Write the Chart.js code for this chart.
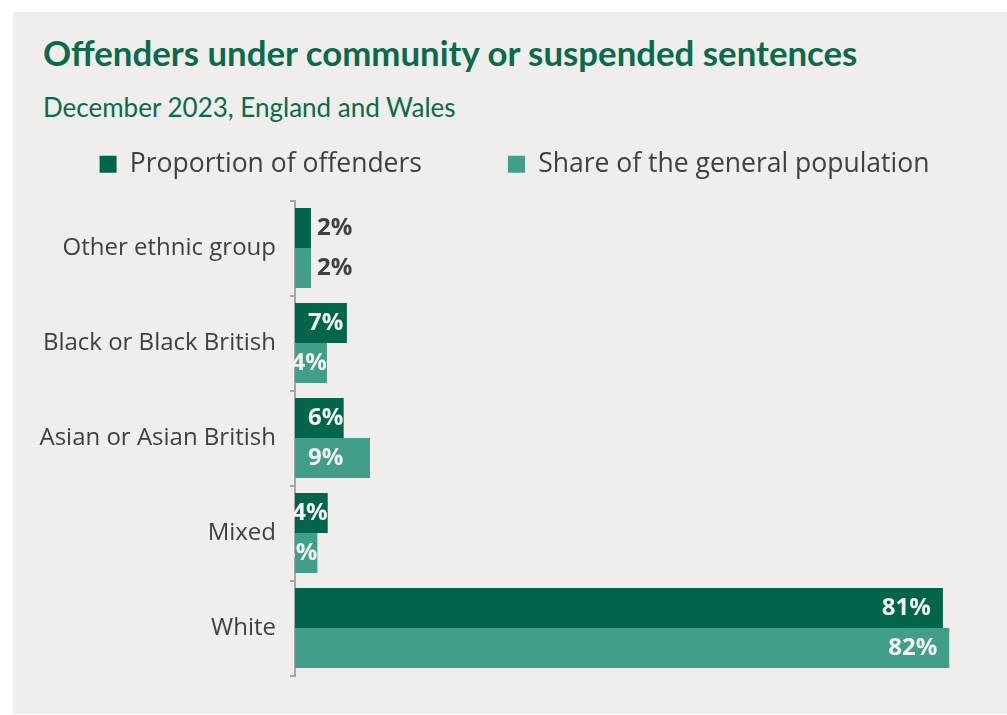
<!DOCTYPE html>
<html>
<head>
<meta charset="utf-8">
<title>Offenders under community or suspended sentences</title>
<script src="https://cdn.jsdelivr.net/npm/chart.js@4.4.1/dist/chart.umd.min.js"></script>
<style>
  body { margin: 0; background: #ffffff; width: 1007px; height: 715px; overflow: hidden; position: relative; }
  .panel { position: absolute; left: 13px; top: 12px; width: 994px; height: 702px; background: #efeeec; }
  h1 { position: absolute; left: 43px; top: 33px; margin: 0; font: bold 34.8px Lato, sans-serif; color: #0b6a4a; line-height: 40px; white-space: nowrap; }
  .sub { position: absolute; left: 43px; top: 92px; margin: 0; font: 26px Lato, sans-serif; color: #0b6a4a; line-height: 30px; white-space: nowrap; }
  .wrap { position: absolute; left: 0; top: 65px; width: 1025px; height: 639px; }
</style>
</head>
<body>
<div class="panel"></div>
<h1>Offenders under community or suspended sentences</h1>
<p class="sub">December 2023, England and Wales</p>
<div class="wrap"><canvas id="chart"></canvas></div>

<script>
// data (percent)
const categories = ['Other ethnic group', 'Black or Black British', 'Asian or Asian British', 'Mixed', 'White'];
const offenders = [2.0, 6.5, 6.1, 4.1, 81.2];
const population = [2.0, 4.0, 9.4, 2.8, 82.0];
// labels as printed on the chart (rounded)
const offendersLabels = ['2%', '7%', '6%', '4%', '81%'];
const populationLabels = ['2%', '4%', '9%', '3%', '82%'];

const darkGreen = '#00654a';
const lightGreen = '#409e89';
const textGrey = '#404040';
const axisGrey = '#a6a6a6';

// Excel-style data labels, drawn after the bars
const barLabels = {
    id: 'barLabels',
    afterDatasetsDraw(chart) {
        const ctx = chart.ctx;
        const area = chart.chartArea;
        const labelSets = [offendersLabels, populationLabels];
        ctx.save();
        ctx.beginPath();
        ctx.rect(area.left - 5, area.top, area.right - area.left + 5, area.bottom - area.top);
        ctx.clip();
        ctx.font = 'bold 24px "Open Sans", sans-serif';
        ctx.textBaseline = 'middle';
        chart.data.datasets.forEach((ds, di) => {
            chart.getDatasetMeta(di).data.forEach((bar, i) => {
                const text = labelSets[di][i];
                const w = ctx.measureText(text).width;
                const barWidth = bar.x - bar.base;
                if (barWidth < 20) {
                    // too small, put it outside the bar
                    ctx.fillStyle = textGrey;
                    ctx.textAlign = 'left';
                    ctx.fillText(text, bar.x + 6, bar.y);
                } else if (barWidth > 150) {
                    ctx.fillStyle = '#f2f2f2';
                    ctx.textAlign = 'right';
                    ctx.fillText(text, bar.x - 12, bar.y);
                } else if (barWidth >= w + 13) {
                    ctx.fillStyle = '#f2f2f2';
                    ctx.textAlign = 'left';
                    ctx.fillText(text, bar.base + 13, bar.y);
                } else {
                    ctx.fillStyle = '#f2f2f2';
                    ctx.textAlign = 'right';
                    ctx.fillText(text, bar.x, bar.y);
                }
            });
        });
        ctx.restore();
    }
};

// extra room between the legend and the plot
const legendGap = {
    id: 'legendGap',
    beforeInit(chart) {
        const fitValue = chart.legend.fit;
        chart.legend.fit = function fit() {
            fitValue.bind(chart.legend)();
            this.height += 13;
        };
    }
};

const ctx = document.getElementById('chart').getContext('2d');
new Chart(ctx, {
    type: 'bar',
    data: {
        labels: categories,
        datasets: [{
            label: 'Proportion of offenders',
            data: offenders,
            backgroundColor: darkGreen,
            borderWidth: 0
        }, {
            label: 'Share of the general population',
            data: population,
            backgroundColor: lightGreen,
            borderWidth: 0
        }]
    },
    options: {
        indexAxis: 'y',
        responsive: true,
        maintainAspectRatio: false,
        animation: false,
        datasets: {
            bar: { categoryPercentage: 0.842, barPercentage: 1 }
        },
        layout: {
            padding: { left: 9.5, right: 5.5, top: 0, bottom: 10 }
        },
        scales: {
            x: {
                display: false,
                min: 0,
                max: 90.8
            },
            y: {
                afterFit(scale) { scale.width = 285.5; },
                grid: {
                    offset: true,
                    drawOnChartArea: false,
                    tickLength: 5,
                    color: axisGrey,
                    lineWidth: 2
                },
                border: { display: true, color: axisGrey, width: 2 },
                ticks: {
                    padding: 14,
                    color: textGrey,
                    font: { family: '"Open Sans", sans-serif', size: 24 }
                }
            }
        },
        plugins: {
            legend: {
                position: 'top',
                labels: {
                    boxWidth: 17,
                    boxHeight: 17,
                    padding: 86,
                    color: textGrey,
                    font: { family: '"Open Sans", sans-serif', size: 26.5 }
                }
            },
            tooltip: { enabled: false }
        }
    },
    plugins: [legendGap, barLabels]
});
</script>
</body>
</html>
